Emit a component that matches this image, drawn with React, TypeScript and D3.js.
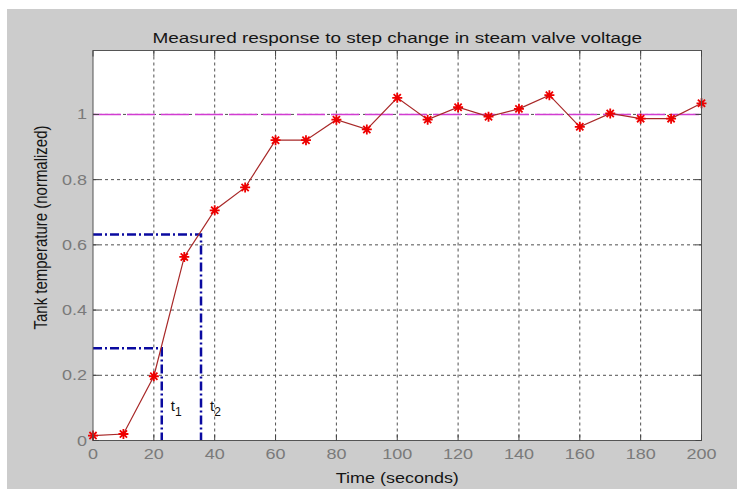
import React from "react";
import * as d3 from "d3";

const times = [0, 10, 20, 30, 40, 50, 60, 70, 80, 90, 100, 110, 120, 130, 140, 150, 160, 170, 180, 190, 200];
const temps = [0.015, 0.02, 0.197, 0.563, 0.706, 0.776, 0.921, 0.921, 0.984, 0.954, 1.051, 0.984, 1.022, 0.993, 1.017, 1.059, 0.962, 1.003, 0.987, 0.987, 1.034];
const xTicks = [0, 20, 40, 60, 80, 100, 120, 140, 160, 180, 200];
const yTicks = [0, 0.2, 0.4, 0.6, 0.8, 1];
const yTickLabels = ["0", "0.2", "0.4", "0.6", "0.8", "1"];
const steadyValue = 1;
const t1 = 22.6;
const t2 = 35.5;
const level1 = 0.283;
const level2 = 0.632;
const xMax = 200;
const yMax = 1.196;

const FONT = "'Liberation Sans', Arial, Helvetica, sans-serif";

function HText(props: { x: number; y: number; anchor?: string; fill?: string; size?: number; len?: number; children: any }) {
  const { x, y, anchor = "middle", fill = "#7a7a7a", size = 15, len, children } = props;
  return (
    <text
      transform={`translate(${x},${y}) scale(1.2,1)`}
      textAnchor={anchor}
      fill={fill}
      fontSize={size}
      fontFamily={FONT}
      textLength={len}
      lengthAdjust={len ? "spacingAndGlyphs" : undefined}
    >
      {children}
    </text>
  );
}

export default function App() {
  const left = 93;
  const right = 701.5;
  const top = 50.5;
  const bottom = 440.5;
  const x = d3.scaleLinear().domain([0, xMax]).range([left, right]);
  const y = d3.scaleLinear().domain([0, yMax]).range([bottom, top]);

  const pts: [number, number][] = times.map((t, i) => [t, temps[i]]);
  const line = d3
    .line<[number, number]>()
    .x((d) => x(d[0]))
    .y((d) => y(d[1]));

  const star = (cx: number, cy: number, r: number) => {
    const d = r * 0.72;
    return `M${cx - r},${cy}L${cx + r},${cy}M${cx},${cy - r}L${cx},${cy + r}M${cx - d},${cy - d}L${cx + d},${cy + d}M${cx - d},${cy + d}L${cx + d},${cy - d}`;
  };

  const tickLen = 6;
  const gridColor = "#505050";
  const blue = "#0a0aa0";
  const dashDot = "9,3,2,3";

  return (
    <svg
      width={737}
      height={489}
      style={{ position: "absolute", left: 0, top: 0, display: "block" }}
    >
      <rect x={0} y={0} width={737} height={489} fill="#ffffff" />
      <rect x={7} y={9} width={730} height={480} fill="#cccccc" />
      <rect x={left} y={top} width={right - left} height={bottom - top} fill="#ffffff" />

      {/* grid */}
      {xTicks
        .filter((t) => t > 0 && t < xMax)
        .map((t) => (
          <line
            key={"gx" + t}
            x1={x(t)}
            x2={x(t)}
            y1={top}
            y2={bottom}
            stroke={gridColor}
            strokeWidth={1}
            strokeDasharray="3,3"
          />
        ))}
      {yTicks
        .filter((t) => t > 0)
        .map((t) => (
          <line
            key={"gy" + t}
            x1={left}
            x2={right}
            y1={y(t)}
            y2={y(t)}
            stroke={gridColor}
            strokeWidth={1}
            strokeDasharray="3,3"
          />
        ))}

      {/* steady state line */}
      <line
        x1={x(0)}
        x2={x(xMax)}
        y1={y(steadyValue)}
        y2={y(steadyValue)}
        stroke="#d23cd2"
        strokeWidth={1.5}
        strokeDasharray="28,6"
      />

      {/* blue construction lines */}
      <path
        d={`M${x(0)},${y(level2)}L${x(t2)},${y(level2)}L${x(t2)},${y(0)}`}
        fill="none"
        stroke={blue}
        strokeWidth={2.5}
        strokeDasharray={dashDot}
      />
      <path
        d={`M${x(0)},${y(level1)}L${x(t1)},${y(level1)}L${x(t1)},${y(0)}`}
        fill="none"
        stroke={blue}
        strokeWidth={2.5}
        strokeDasharray={dashDot}
      />

      {/* data line */}
      <path d={line(pts) || ""} fill="none" stroke="#a82828" strokeWidth={1.2} />
      {pts.map((p, i) => (
        <path key={"s" + i} d={star(x(p[0]), y(p[1]), 5)} stroke="#ee0000" strokeWidth={1.8} fill="none" />
      ))}

      {/* box */}
      <rect x={left} y={top} width={right - left} height={bottom - top} fill="none" stroke="#555555" strokeWidth={1} />

      {/* ticks */}
      {xTicks.map((t) => (
        <g key={"tx" + t}>
          <line x1={x(t)} x2={x(t)} y1={bottom} y2={bottom - tickLen} stroke="#444" />
          <line x1={x(t)} x2={x(t)} y1={top} y2={top + tickLen} stroke="#444" />
        </g>
      ))}
      {yTicks.map((t) => (
        <g key={"ty" + t}>
          <line x1={left} x2={left + tickLen} y1={y(t)} y2={y(t)} stroke="#444" />
          <line x1={right} x2={right - tickLen} y1={y(t)} y2={y(t)} stroke="#444" />
        </g>
      ))}

      {/* tick labels */}
      {xTicks.map((t) => (
        <HText key={"lx" + t} x={x(t)} y={bottom + 18}>
          {String(t)}
        </HText>
      ))}
      {yTicks.map((t, i) => (
        <HText key={"ly" + t} x={left - 6} y={y(t) + 5} anchor="end">
          {yTickLabels[i]}
        </HText>
      ))}

      {/* t1, t2 labels */}
      <text x={x(t1) + 9} y={411} fontSize={15} fontFamily={FONT} fill="#111">
        t<tspan fontSize={12} dy={5}>1</tspan>
      </text>
      <text x={x(t2) + 9} y={411} fontSize={15} fontFamily={FONT} fill="#111">
        t<tspan fontSize={12} dy={5}>2</tspan>
      </text>

      {/* title and axis labels */}
      <HText x={(left + right) / 2} y={43} fill="#151515" len={408}>
        Measured response to step change in steam valve voltage
      </HText>
      <HText x={(left + right) / 2} y={483} fill="#151515">
        Time (seconds)
      </HText>
      <text
        transform={`translate(47,${(top + bottom) / 2 - 18}) scale(1.2,1) rotate(-90)`}
        textAnchor="middle"
        fontSize={15}
        fontFamily={FONT}
        fill="#151515"
      >
        Tank temperature (normalized)
      </text>
    </svg>
  );
}
